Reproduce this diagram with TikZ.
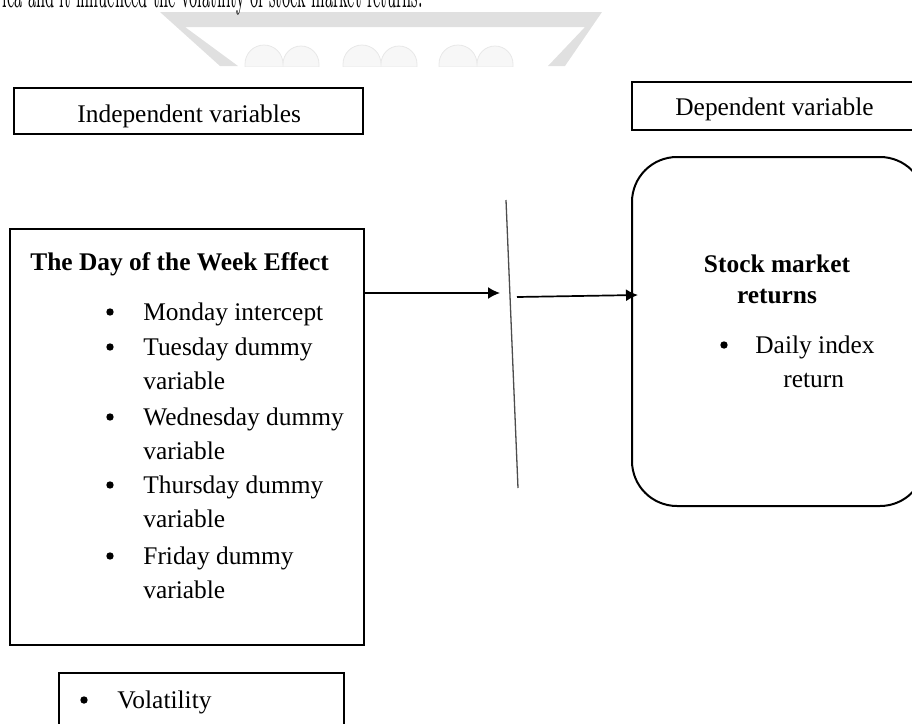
\documentclass[tikz,border=0pt]{standalone}
\usepackage{fontspec}
\usepackage{graphicx}
\newfontfamily\tnr{Liberation Serif}
\usetikzlibrary{arrows.meta}
\tikzset{
  thickbox/.style={draw, line width=1.3pt, inner sep=0pt, rectangle},
  roundbox/.style={draw, line width=1pt, inner sep=0pt, rectangle, rounded corners=22.5pt},
  txt/.style={font={\tnr\fontsize{12.7}{15}\selectfont}, inner sep=0pt, anchor=base west},
  btxt/.style={txt, font={\tnr\bfseries\fontsize{12.7}{15}\selectfont}},
  bul/.style={circle, fill=black, inner sep=0pt, minimum size=3.7pt},
  arr/.style={line width=0.85pt, -{Latex[length=6pt,width=6pt]}},
  wmframe/.style={fill=black!12},
  wmbump/.style={fill=black!3, draw=black!9, line width=0.4pt},
}
\begin{document}
\begin{tikzpicture}[x=0.5pt,y=-0.5pt]
\useasboundingbox (0,0) rectangle (912,724);
% faint watermark
\begin{scope}
  \clip (0,0) rectangle (912,66);
  \fill[wmframe] (160,12) -- (602,12) -- (565,66) -- (548,66) -- (585,27) -- (185,27) -- (238,66) -- (220,66) -- cycle;
  \foreach \c in {282,380,476}{
    \path[wmbump] (\c-37,67) -- (\c-37,64) arc[start angle=180, end angle=360, radius=19] arc[start angle=180, end angle=360, radius=18] -- (\c+37,67) -- cycle;
  }
\end{scope}
% cut-off caption line
\node[font=\fontsize{7.7}{10}\selectfont, anchor=base east, inner sep=0pt] (caption) at (423,7.5)
  {\scalebox{1}[2.45]{ica and it influenced the volatility of stock market returns.}};

% header boxes
\node[thickbox, minimum width=174.5pt, minimum height=23pt] (indep) at (188.5,111) {};
\node[txt] (indeptxt) at (77,122) {Independent variables};
\node[thickbox, minimum width=146.5pt, minimum height=24pt] (dep) at (778.5,106) {};
\node[txt] (deptxt) at (675,115) {Dependent variable};

% main left box
\node[thickbox, minimum width=177pt, minimum height=208pt] (main) at (187,437) {};
\node[btxt] (title) at (30,270) {The Day of the Week Effect};
\node[bul] (b1) at (110,312) {};
\node[txt] (t1) at (143,320) {Monday intercept};
\node[bul] (b2) at (110,347) {};
\node[txt] (t2) at (143,355) {Tuesday dummy};
\node[txt] (t2b) at (143,389) {variable};
\node[bul] (b3) at (110,417) {};
\node[txt] (t3) at (143,425) {Wednesday dummy};
\node[txt] (t3b) at (143,459) {variable};
\node[bul] (b4) at (110,485) {};
\node[txt] (t4) at (143,493) {Thursday dummy};
\node[txt] (t4b) at (143,527) {variable};
\node[bul] (b5) at (110,556) {};
\node[txt] (t5) at (143,564) {Friday dummy};
\node[txt] (t5b) at (143,598) {variable};

% volatility box
\node[thickbox, minimum width=142.5pt, minimum height=43.5pt] (vol) at (201.5,716.5) {};
\node[bul] (bv) at (84,700) {};
\node[txt] (tv) at (117,708) {Volatility};

% right rounded box
\node[roundbox, minimum width=146.5pt, minimum height=174.5pt] (stock) at (778.5,331.5) {};
\node[btxt, anchor=base] (st1) at (777,272) {Stock market};
\node[btxt, anchor=base] (st2) at (777,303) {returns};
\node[bul] (bs) at (724,345) {};
\node[txt] (ts1) at (755,353) {Daily index};
\node[txt] (ts2) at (783,387) {return};

% slanted divider and arrows
\coordinate (s1) at (506,200);
\coordinate (s2) at (518,488);
\draw[line width=0.65pt, black!70] (s1) -- (s2);
\coordinate (e1) at (500,293);
\draw[arr] (e1 -| main.east) -- (e1);
\coordinate (a2s) at (517,297);
\coordinate (a2e) at (638,295);
\draw[arr] (a2s) -- (a2e);
\end{tikzpicture}
\end{document}
